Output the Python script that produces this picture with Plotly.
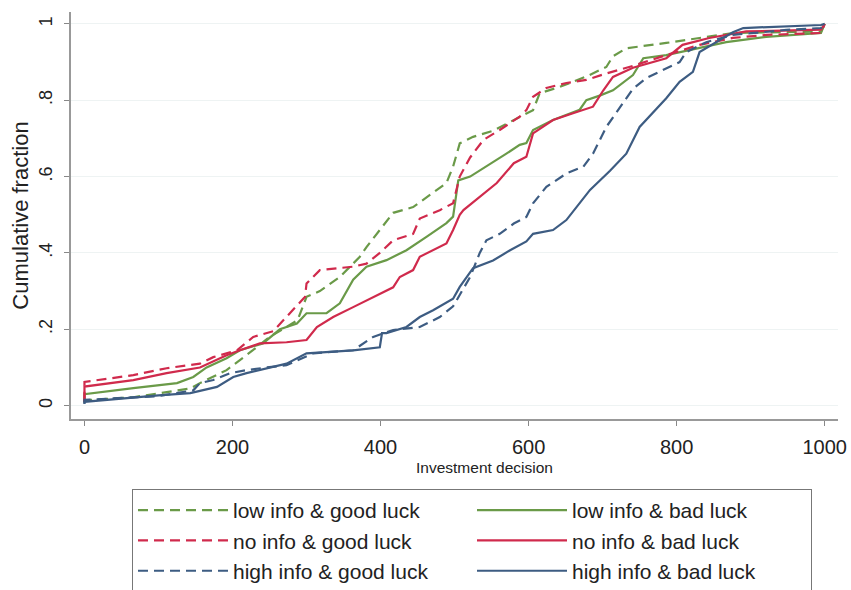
import plotly.graph_objects as go

# ---- data ----
low_good_x = [0, 0, 66, 125, 143, 156, 192, 228, 250, 273, 288, 300, 318, 345, 372, 381, 395, 417, 444, 471, 489, 498, 507, 525, 552, 588, 606, 615, 642, 678, 705, 714, 732, 786, 831, 876, 995, 1000]
low_good_y = [0.008, 0.014, 0.022, 0.04, 0.045, 0.059, 0.093, 0.146, 0.18, 0.206, 0.224, 0.285, 0.30, 0.337, 0.39, 0.415, 0.45, 0.505, 0.52, 0.557, 0.583, 0.626, 0.687, 0.704, 0.72, 0.756, 0.774, 0.818, 0.835, 0.862, 0.887, 0.915, 0.936, 0.95, 0.963, 0.976, 0.98, 1.0]

low_bad_x = [0, 0, 66, 125, 147, 165, 192, 210, 241, 264, 287, 300, 327, 345, 363, 381, 408, 435, 462, 489, 498, 505, 521, 543, 570, 588, 597, 606, 633, 669, 678, 696, 714, 741, 755, 786, 831, 867, 921, 995, 1000]
low_bad_y = [0.01, 0.03, 0.046, 0.059, 0.075, 0.10, 0.124, 0.145, 0.163, 0.2, 0.215, 0.242, 0.242, 0.268, 0.33, 0.364, 0.381, 0.407, 0.442, 0.478, 0.495, 0.59, 0.6, 0.626, 0.66, 0.683, 0.688, 0.722, 0.748, 0.775, 0.8, 0.812, 0.826, 0.866, 0.91, 0.918, 0.936, 0.952, 0.966, 0.976, 1.0]

no_good_x = [0, 0, 66, 111, 156, 174, 206, 228, 255, 269, 282, 298, 300, 318, 363, 381, 399, 417, 444, 453, 480, 498, 507, 521, 539, 561, 588, 597, 606, 624, 651, 678, 705, 741, 786, 831, 876, 921, 995, 1000]
no_good_y = [0.01, 0.062, 0.08, 0.098, 0.11, 0.127, 0.145, 0.18, 0.195, 0.224, 0.25, 0.285, 0.32, 0.355, 0.364, 0.372, 0.4, 0.433, 0.45, 0.49, 0.512, 0.53, 0.6, 0.65, 0.696, 0.722, 0.757, 0.774, 0.809, 0.832, 0.845, 0.853, 0.87, 0.89, 0.918, 0.945, 0.963, 0.971, 0.976, 1.0]

no_bad_x = [0, 0, 66, 111, 156, 192, 210, 237, 273, 300, 314, 336, 363, 390, 417, 426, 444, 453, 480, 489, 498, 507, 512, 535, 557, 580, 597, 606, 633, 660, 687, 701, 714, 741, 786, 808, 844, 894, 995, 1000]
no_bad_y = [0.01, 0.05, 0.067, 0.085, 0.10, 0.132, 0.145, 0.163, 0.166, 0.172, 0.206, 0.232, 0.258, 0.285, 0.31, 0.337, 0.355, 0.39, 0.416, 0.425, 0.46, 0.5, 0.512, 0.547, 0.583, 0.635, 0.652, 0.713, 0.748, 0.766, 0.783, 0.826, 0.861, 0.885, 0.91, 0.945, 0.963, 0.98, 0.985, 1.0]

high_good_x = [0, 0, 100, 147, 156, 174, 197, 219, 246, 273, 309, 363, 390, 417, 453, 480, 498, 521, 534, 543, 561, 580, 597, 606, 624, 651, 674, 687, 705, 723, 741, 759, 786, 804, 813, 840, 876, 948, 995, 1000]
high_good_y = [0.005, 0.015, 0.025, 0.04, 0.059, 0.067, 0.085, 0.093, 0.10, 0.106, 0.137, 0.145, 0.18, 0.198, 0.206, 0.232, 0.26, 0.337, 0.4, 0.433, 0.45, 0.477, 0.494, 0.53, 0.573, 0.608, 0.626, 0.66, 0.73, 0.78, 0.83, 0.858, 0.884, 0.9, 0.926, 0.952, 0.971, 0.984, 0.989, 1.0]

high_bad_x = [0, 0, 100, 143, 179, 201, 219, 273, 300, 363, 399, 402, 408, 435, 453, 471, 498, 507, 525, 552, 575, 597, 606, 633, 651, 665, 683, 710, 732, 750, 764, 786, 804, 822, 831, 854, 876, 890, 995, 1000]
high_bad_y = [0.005, 0.01, 0.027, 0.033, 0.049, 0.075, 0.085, 0.11, 0.137, 0.145, 0.153, 0.19, 0.19, 0.206, 0.232, 0.25, 0.28, 0.311, 0.36, 0.38, 0.407, 0.43, 0.45, 0.46, 0.486, 0.52, 0.565, 0.615, 0.66, 0.73, 0.76, 0.805, 0.848, 0.874, 0.926, 0.952, 0.978, 0.989, 0.997, 1.0]

x_tick_vals = [0, 200, 400, 600, 800, 1000]
y_tick_vals = [0, 0.2, 0.4, 0.6, 0.8, 1.0]
y_tick_text = ["0", ".2", ".4", ".6", ".8", "1"]
x_title = "Investment decision"
y_title = "Cumulative fraction"

GREEN = "#6a9a48"
RED = "#d02a4c"
BLUE = "#3d5c82"
DASH = "10px,6px"

series = [
    ("low info & good luck", low_good_x, low_good_y, GREEN, DASH),
    ("low info & bad luck", low_bad_x, low_bad_y, GREEN, "solid"),
    ("no info & good luck", no_good_x, no_good_y, RED, DASH),
    ("no info & bad luck", no_bad_x, no_bad_y, RED, "solid"),
    ("high info & good luck", high_good_x, high_good_y, BLUE, DASH),
    ("high info & bad luck", high_bad_x, high_bad_y, BLUE, "solid"),
]

FONT = "Liberation Sans, Arial, sans-serif"
TXT = "#222222"

# plot-area geometry in pixels
L, R, T, B = 71, 13, 12, 171
PW = 851 - L - R
PH = 590 - T - B

fig = go.Figure()
for name, xs, ys, col, dash in series:
    fig.add_trace(go.Scatter(x=xs, y=ys, mode="lines", name=name,
                             line=dict(color=col, width=2.2, dash=dash)))

fig.update_layout(
    width=851, height=590,
    margin=dict(l=L, r=R, t=T, b=B, autoexpand=False),
    paper_bgcolor="white", plot_bgcolor="white",
    font=dict(family=FONT, color=TXT),
    showlegend=True,
    legend=dict(
        orientation="h", x=(132 - L) / PW, xanchor="left",
        y=-(489 - (590 - B)) / PH, yanchor="top",
        itemwidth=90,
        entrywidth=234, entrywidthmode="pixels",
        bgcolor="white", bordercolor="#777777", borderwidth=1,
        font=dict(size=21, family=FONT, color=TXT),
    ),
    annotations=[dict(
        text=x_title, xref="paper", yref="paper",
        x=(485 - L) / PW, y=-(467 - (590 - B)) / PH,
        xanchor="center", yanchor="middle", showarrow=False,
        font=dict(size=15.5, family=FONT, color=TXT),
    )],
)
fig.update_xaxes(
    range=[-18.2, 1018], tickvals=x_tick_vals,
    ticks="outside", ticklen=5, tickcolor="#888888", tickwidth=1,
    ticklabelstandoff=4,
    showline=True, linecolor="#999999", linewidth=2,
    showgrid=False, zeroline=False,
    tickfont=dict(size=20, family=FONT, color=TXT),
)
fig.update_yaxes(
    range=[-0.035, 1.031], tickvals=y_tick_vals, ticktext=y_tick_text,
    tickangle=-90, ticklabelstandoff=5,
    ticks="outside", ticklen=5, tickcolor="#888888", tickwidth=1,
    showline=True, linecolor="#999999", linewidth=2,
    showgrid=True, gridcolor="#eef3f3", gridwidth=1, zeroline=False,
    tickfont=dict(size=18, family=FONT, color=TXT),
    title=dict(text=y_title, font=dict(size=22, family=FONT, color=TXT), standoff=1),
)

fig.write_html("out.html", config={"displayModeBar": False},
               post_script="document.body.style.margin='0px';")
